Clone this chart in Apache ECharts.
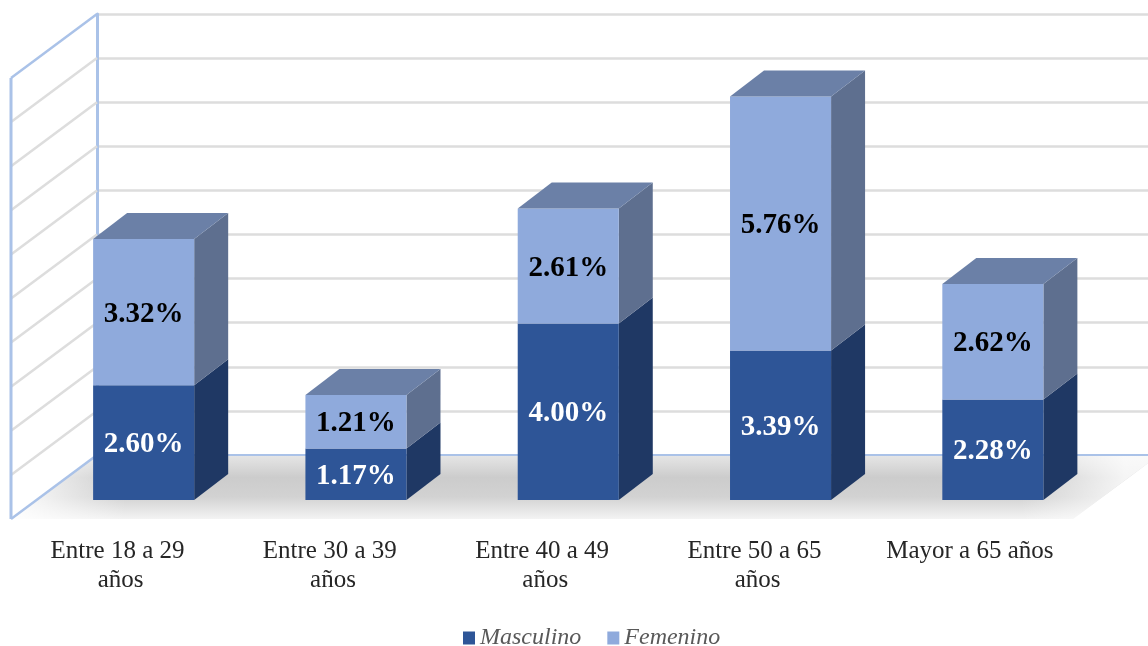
<!DOCTYPE html>
<html><head><meta charset="utf-8">
<style>html,body{margin:0;padding:0;background:#fff}#c{width:1148px;height:646px}</style>
<script src="https://cdn.jsdelivr.net/npm/echarts@6/dist/echarts.min.js"></script>
</head><body><div id="c"></div>
<script>
var categories = ['Entre 18 a 29 años','Entre 30 a 39 años','Entre 40 a 49 años','Entre 50 a 65 años','Mayor a 65 años'];
var masculino = [2.60,1.17,4.00,3.39,2.28];
var femenino = [3.32,1.21,2.61,5.76,2.62];
var wallTicks = [0,1,2,3,4,5,6,7,8,9,10];
var serif = '"Liberation Serif","DejaVu Serif",serif';
var BLUE_LINE = '#aac2e8', GREY_LINE = '#dddddd';
var WALL_DX = -86, WALL_DY = 64, DX = 34, DY = -26, FLOOR_W = 1062;

function pct(v){ return v.toFixed(2) + '%'; }

function bar(front, side, top, textColor, hasTop){
  return function(params, api){
    var i = api.value(0), a = api.value(1), b = api.value(2);
    var p0 = api.coord([i, a]), p1 = api.coord([i, b]);
    var w = api.size([1, 0])[0] * 0.476;
    var l = p0[0] - w/2, r = p0[0] + w/2, yb = p0[1], yt = p1[1];
    var kids = [
      {type:'polygon', shape:{points:[[r,yb],[r+DX,yb+DY],[r+DX,yt+DY],[r,yt]]}, style:{fill:side}},
      {type:'rect', shape:{x:l,y:yt,width:r-l,height:yb-yt}, style:{fill:front}}
    ];
    if (hasTop) kids.push({type:'polygon', shape:{points:[[l,yt],[l+DX,yt+DY],[r+DX,yt+DY],[r,yt]]}, style:{fill:top}});
    kids.push({type:'text', style:{text:pct(b-a), x:(l+r)/2, y:(yb+yt)/2+2, align:'center', verticalAlign:'middle',
      font:'bold 29px '+serif, fill:textColor}, z2:10});
    return {type:'group', children:kids};
  };
}

function wall(params, api){
  var v = api.value(0);
  var p = api.coord([0, v]), base = api.coord([0, 0]);
  var kids = [];
  var x2 = p[0] + WALL_DX, y2 = p[1] + WALL_DY;
  if (v === 0) {
    var pts = [[p[0],p[1]],[x2,y2],[x2+FLOOR_W,y2],[p[0]+FLOOR_W,p[1]]];
    kids.push({type:'polygon', shape:{points:pts}, style:{fill:{type:'linear',x:0,y:0,x2:0,y2:1,colorStops:[
      {offset:0,color:'#e6e6e6'},{offset:0.35,color:'#cccccc'},{offset:0.65,color:'#d2d2d2'},{offset:1,color:'#f3f3f3'}]}}});
    kids.push({type:'polygon', shape:{points:pts}, style:{fill:{type:'linear',x:0,y:0,x2:1,y2:0,colorStops:[
      {offset:0,color:'rgba(255,255,255,0.95)'},{offset:0.1,color:'rgba(255,255,255,0)'},{offset:0.88,color:'rgba(255,255,255,0)'},{offset:0.97,color:'rgba(255,255,255,0.8)'}]}}});
    kids.push({type:'line', shape:{x1:p[0],y1:p[1],x2:1148,y2:p[1]}, style:{stroke:BLUE_LINE,lineWidth:2}});
  }
  var isEdge = v === 0 || v === 10;
  kids.push({type:'line', shape:{x1:p[0],y1:p[1],x2:x2,y2:y2}, style:{stroke:isEdge?BLUE_LINE:GREY_LINE,lineWidth:2.5}});
  if (v === 10) {
    kids.push({type:'line', shape:{x1:x2,y1:y2,x2:base[0]+WALL_DX,y2:base[1]+WALL_DY}, style:{stroke:BLUE_LINE,lineWidth:3}});
  }
  return {type:'group', children:kids};
}

var chart = echarts.init(document.getElementById('c'), null, {renderer:'canvas'});
chart.setOption({
  backgroundColor:'#fff',
  animation:false,
  legend:{
    data:['Masculino','Femenino'], left:458, top:621, itemWidth:12, itemHeight:13, itemGap:26,
    icon:'rect',
    textStyle:{fontFamily:serif, fontStyle:'italic', fontSize:24, color:'#595959'}
  },
  grid:[
    {left:97, width:1051, top:14, height:441},
    {left:37.5, width:1061.5, top:59, height:441}
  ],
  xAxis:[
    {type:'value', gridIndex:0, min:0, max:1, show:false},
    {type:'category', gridIndex:1, data:categories,
      axisLine:{show:false}, axisTick:{show:false},
      axisLabel:{margin:37, interval:0, fontFamily:serif, fontSize:25, color:'#262626', lineHeight:29, width:182, overflow:'break', padding:[0,46,0,0]}}
  ],
  yAxis:[
    {type:'value', gridIndex:0, min:0, max:10, interval:1,
      axisLabel:{show:false}, axisTick:{show:false},
      axisLine:{show:true, lineStyle:{color:BLUE_LINE,width:3}},
      splitLine:{show:true, lineStyle:{color:GREY_LINE,width:2.5}}},
    {type:'value', gridIndex:1, min:0, max:10, interval:1, show:false, splitLine:{show:false}}
  ],
  series:[
    {type:'custom', name:'wall', xAxisIndex:0, yAxisIndex:0, clip:false, silent:true, z:1,
      data:wallTicks.map(function(t){return [t];}), encode:{y:0}, renderItem:wall},
    {type:'custom', name:'Masculino', xAxisIndex:1, yAxisIndex:1, clip:false, z:3,
      itemStyle:{color:'#2e5597'},
      data:masculino.map(function(v,i){return [i,0,v];}),
      encode:{x:0,y:[1,2]}, renderItem:bar('#2e5597','#1f3864','#2e5597','#ffffff',false)},
    {type:'custom', name:'Femenino', xAxisIndex:1, yAxisIndex:1, clip:false, z:3,
      itemStyle:{color:'#8faadc'},
      data:femenino.map(function(v,i){return [i,masculino[i],masculino[i]+v];}),
      encode:{x:0,y:[1,2]}, renderItem:bar('#8faadc','#5e6f8f','#6b80a7','#000000',true)}
  ]
});
</script></body></html>
